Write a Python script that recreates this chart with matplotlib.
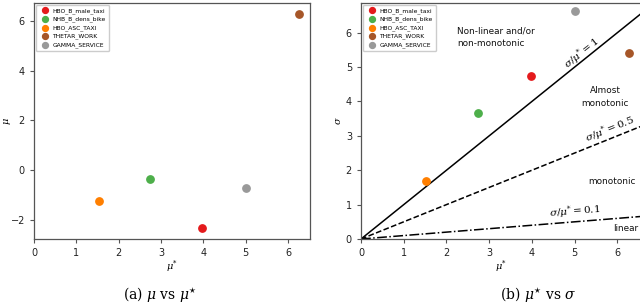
import matplotlib
matplotlib.use("Agg")
import matplotlib.pyplot as plt
import numpy as np

names = ["HBO_B_male_taxi", "NHB_B_dens_bike", "HBO_ASC_TAXI", "THETAR_WORK", "GAMMA_SERVICE"]
colors = ["#e41a1c", "#4daf4a", "#ff7f00", "#a65628", "#999999"]
mu_star = [3.97, 2.73, 1.53, 6.27, 5.00]
mu = [-2.32, -0.36, -1.24, 6.27, -0.71]
sigma = [4.75, 3.66, 1.69, 5.41, 6.63]

ratios = [1.0, 0.5, 0.1]
ratio_styles = ["-", "--", "-."]
ratio_labels = [r"$\sigma/\mu^{*}=1$", r"$\sigma/\mu^{*}=0.5$", r"$\sigma/\mu^{*}=0.1$"]

plt.rcParams["mathtext.fontset"] = "dejavuserif"
fig = plt.figure(figsize=(6.4, 3.05), dpi=100)
W, H = 640, 305

def ax_rect(x0, x1, y0, y1):
    return [x0 / W, 1 - y1 / H, (x1 - x0) / W, (y1 - y0) / H]

ax1 = fig.add_axes(ax_rect(34, 310, 3, 239))
ax2 = fig.add_axes(ax_rect(361, 641, 3, 239))

spine_col = "#555555"
for ax in (ax1, ax2):
    for s in ax.spines.values():
        s.set_color(spine_col)
        s.set_linewidth(0.9)
    ax.tick_params(labelsize=7, colors="#222222", length=3, width=0.8)
    ax.tick_params(axis="both", color=spine_col)

for n, c, x, y in zip(names, colors, mu_star, mu):
    ax1.scatter(x, y, s=28, color=c, label=n, zorder=3)
ax1.set_xlim(0, 6.52)
ax1.set_ylim(-2.78, 6.72)
ax1.set_xticks(range(0, 7))
ax1.set_yticks([-2, 0, 2, 4, 6])
ax1.set_xlabel(r"$\mu^{*}$", fontsize=7, labelpad=0)
ax1.set_ylabel(r"$\mu$", fontsize=7, labelpad=0)
ax1.yaxis.set_label_coords(-0.075, 0.5)
ax1.legend(loc="upper left", fontsize=4.3, markerscale=0.8, handletextpad=0.3,
           borderpad=0.5, labelspacing=0.45, framealpha=1, edgecolor="#cccccc",
           borderaxespad=0.3)

xs = np.array([0, 6.6])
for r, ls in zip(ratios, ratio_styles):
    ax2.plot(xs, r * xs, color="black", linestyle=ls, linewidth=1.1, zorder=2)
for n, c, x, y in zip(names, colors, mu_star, sigma):
    ax2.scatter(x, y, s=28, color=c, label=n, zorder=3)
ax2.set_xlim(0, 6.55)
ax2.set_ylim(0, 6.86)
ax2.set_xticks(range(0, 7))
ax2.set_yticks(range(0, 7))
ax2.set_xlabel(r"$\mu^{*}$", fontsize=7, labelpad=0)
ax2.set_ylabel(r"$\sigma$", fontsize=7, labelpad=2)
ax2.legend(loc="upper left", fontsize=4.3, markerscale=0.8, handletextpad=0.3,
           borderpad=0.5, labelspacing=0.45, framealpha=1, edgecolor="#cccccc",
           borderaxespad=0.3)

fs = 6.4
ax2.text(2.25, 5.87, "Non-linear and/or\nnon-monotonic", fontsize=fs, ha="left", va="center",
         linespacing=1.5, color="#111111")
ax2.text(5.71, 4.13, "Almost\nmonotonic", fontsize=fs, ha="center", va="center",
         linespacing=1.5, color="#111111")
ax2.text(5.87, 1.66, "monotonic", fontsize=fs, ha="center", va="center", color="#111111")
ax2.text(6.19, 0.30, "linear", fontsize=fs, ha="center", va="center", color="#111111")

# rotated ratio labels
pix_per_x = 42.7
pix_per_y = 34.4
label_pos = [(5.17, 5.40), (5.82, 3.17), (5.01, 0.79)]
for r, lab, (lx, ly) in zip(ratios, ratio_labels, label_pos):
    ang = np.degrees(np.arctan(r * pix_per_y / pix_per_x))
    ax2.text(lx, ly, lab, fontsize=7.5, rotation=ang, ha="center", va="center",
             rotation_mode="anchor")

fig.text(160 / W, 1 - 295 / H, r"(a) $\mu$ vs $\mu^{\star}$", fontsize=10, ha="center",
         va="center", family="DejaVu Serif")
fig.text(538 / W, 1 - 295 / H, r"(b) $\mu^{\star}$ vs $\sigma$", fontsize=10, ha="center",
         va="center", family="DejaVu Serif")

fig.savefig("out.png", dpi=100)
